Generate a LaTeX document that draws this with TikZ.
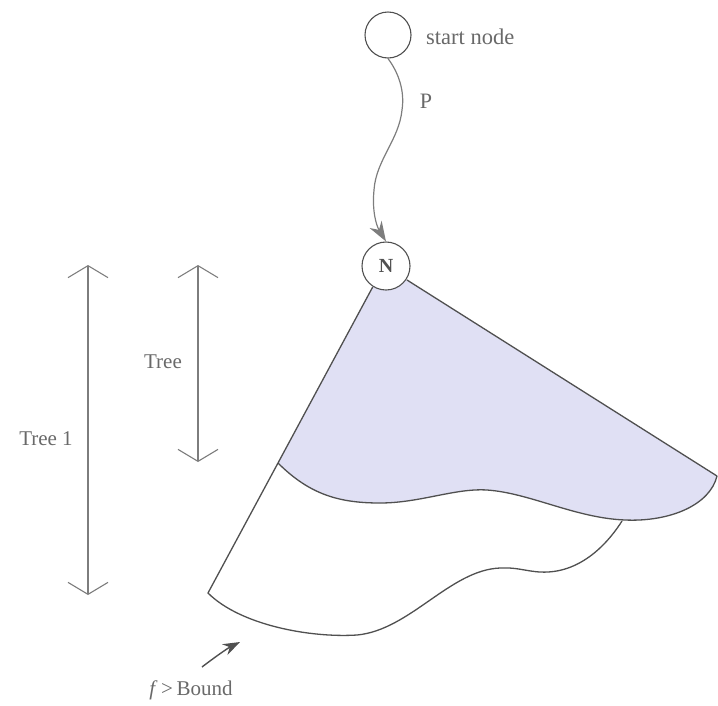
\documentclass[tikz,border=0pt]{standalone}
\usepackage{fontspec}
\setmainfont{Liberation Serif}
\usetikzlibrary{arrows.meta}
\definecolor{lin}{RGB}{80,80,80}
\definecolor{txt}{RGB}{105,105,105}
\definecolor{dim}{RGB}{125,125,125}
\definecolor{regionfill}{RGB}{224,224,244}
\begin{document}
\begin{tikzpicture}[x=1pt,y=-1pt,
  circ/.style={circle,draw=lin,line width=1.1pt,fill=white,inner sep=0pt},
  lbl/.style={text=txt,font=\fontsize{21}{25}\selectfont,inner sep=0pt},
  edge/.style={draw=lin,line width=1.3pt},
  dimarrow/.style={draw=dim,line width=1.1pt,{Straight Barb[length=12pt,width=40pt]}-{Straight Barb[length=12pt,width=40pt]}},
  ptip/.style={-{Stealth[length=20pt,width=14pt,fill=dim]}},
  btip/.style={-{Stealth[length=17pt,width=12pt,fill=lin]}}]
\useasboundingbox (0,0) rectangle (718,705);
% coordinates of the region
\coordinate (L1) at (372.7,287);
\coordinate (L2) at (278,463);
\coordinate (L3) at (208,593);
\coordinate (R1) at (407,280);
\coordinate (R2) at (717,476);
\coordinate (J) at (622,521);
% shaded part
\fill[regionfill] (386,266) -- (L1) -- (L2)
  .. controls (310,495) and (340,503) .. (380,503)
  .. controls (420,503) and (455,488) .. (487,490)
  .. controls (530,493) and (575,518) .. (625,520)
  .. controls (670,522) and (710,505) .. (R2) -- (R1) -- cycle;
\draw[edge] (L2)
  .. controls (310,495) and (340,503) .. (380,503)
  .. controls (420,503) and (455,488) .. (487,490)
  .. controls (530,493) and (575,518) .. (625,520)
  .. controls (670,522) and (710,505) .. (R2);
\draw[edge] (R1) -- (R2);
\draw[edge] (L1) -- (L2) -- (L3)
  .. controls (240,625) and (310,638) .. (357,635)
  .. controls (410,630) and (450,570) .. (500,568)
  .. controls (520,567) and (530,573) .. (548,572)
  .. controls (585,570) and (610,540) .. (J);
% nodes
\node[circ,minimum size=46pt] (start) at (388,35) {};
\node[lbl,anchor=west,font=\fontsize{22.5}{26}\selectfont] (startlbl) at (426,37) {start node};
\node[circ,minimum size=48pt,font=\fontsize{20}{24}\selectfont\bfseries,text=lin] (N) at (386,266) {N};
\node[lbl,font=\fontsize{22}{26}\selectfont] (P) at (426,101) {P};
% path P
\coordinate (p1) at (402,110);
\coordinate (p2) at (374,190);
\draw[draw=dim,line width=1.2pt] (start.south) .. controls (398,72) and (405,90) .. (p1)
  .. controls (399,140) and (376,160) .. (p2);
\draw[draw=dim,line width=1.2pt,ptip] (p2) .. controls (372,210) and (376,225) .. (N.north);
% dimension arrows
\coordinate (t1a) at (88,265);
\coordinate (t1b) at (88,595);
\coordinate (t2a) at (198,265);
\coordinate (t2b) at (198,462);
\draw[dimarrow] (t1a) -- (t1b);
\draw[dimarrow] (t2a) -- (t2b);
\node[lbl] (tree) at (163,362) {Tree};
\node[lbl] (tree1) at (46,439) {Tree 1};
% bound label
\node[lbl] (bound) at (191,690) {\textit{f}\,>\,Bound};
\coordinate (b1) at (202,667);
\coordinate (b2) at (240,642);
\draw[draw=lin,line width=1.4pt,btip] (b1) .. controls (215,657) and (228,648) .. (b2);
\end{tikzpicture}
\end{document}
